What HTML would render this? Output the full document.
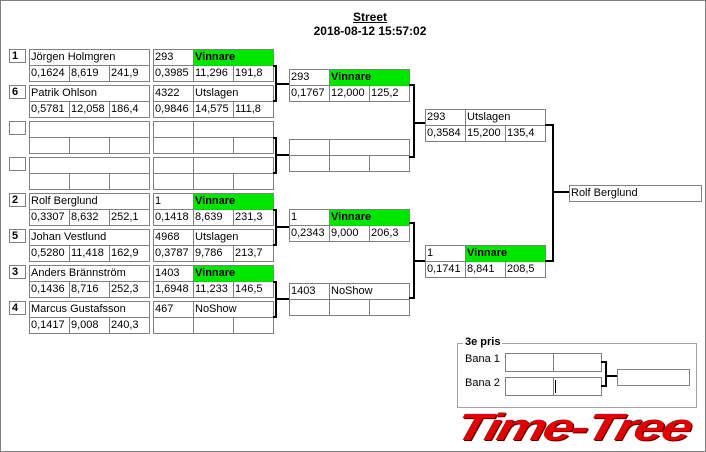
<!DOCTYPE html>
<html><head><meta charset="utf-8"><style>
*{margin:0;padding:0;box-sizing:border-box}
body{width:706px;height:452px;position:relative;background:#fff;font-family:"Liberation Sans",sans-serif;font-size:11px;overflow:hidden}
#frame{position:absolute;left:0;top:0;width:706px;height:452px;border:1px solid #808080}
.c{position:absolute;border:1px solid #808080;background:#fff;height:17px;line-height:14px;padding-left:1px;white-space:nowrap;overflow:hidden;color:#000}
.g{background:#00e600;font-weight:bold}
.s{position:absolute;border:1px solid #808080;width:17px;height:14px;font-weight:bold;line-height:12px;padding-left:2px;background:#fff}
.t{position:absolute;font-weight:bold;font-size:12px;text-align:center;width:706px;left:17px}
</style></head><body>
<div id="frame"></div>
<div class="t" style="top:10px;text-decoration:underline">Street</div>
<div class="t" style="top:24px">2018-08-12 15:57:02</div>

<!-- seeds -->
<div class="s" style="left:9px;top:49px">1</div>
<div class="c" style="left:29px;top:49px;width:121px">Jörgen Holmgren</div>
<div class="c" style="left:29px;top:65px;width:41px">0,1624</div><div class="c" style="left:69px;top:65px;width:41px">8,619</div><div class="c" style="left:109px;top:65px;width:41px">241,9</div>
<div class="s" style="left:9px;top:85px">6</div>
<div class="c" style="left:29px;top:85px;width:121px">Patrik Ohlson</div>
<div class="c" style="left:29px;top:101px;width:41px">0,5781</div><div class="c" style="left:69px;top:101px;width:41px">12,058</div><div class="c" style="left:109px;top:101px;width:41px">186,4</div>
<div class="s" style="left:9px;top:121px"></div>
<div class="c" style="left:29px;top:121px;width:121px"></div>
<div class="c" style="left:29px;top:137px;width:41px"></div><div class="c" style="left:69px;top:137px;width:41px"></div><div class="c" style="left:109px;top:137px;width:41px"></div>
<div class="s" style="left:9px;top:157px"></div>
<div class="c" style="left:29px;top:157px;width:121px"></div>
<div class="c" style="left:29px;top:173px;width:41px"></div><div class="c" style="left:69px;top:173px;width:41px"></div><div class="c" style="left:109px;top:173px;width:41px"></div>
<div class="s" style="left:9px;top:193px">2</div>
<div class="c" style="left:29px;top:193px;width:121px">Rolf Berglund</div>
<div class="c" style="left:29px;top:209px;width:41px">0,3307</div><div class="c" style="left:69px;top:209px;width:41px">8,632</div><div class="c" style="left:109px;top:209px;width:41px">252,1</div>
<div class="s" style="left:9px;top:229px">5</div>
<div class="c" style="left:29px;top:229px;width:121px">Johan Vestlund</div>
<div class="c" style="left:29px;top:245px;width:41px">0,5280</div><div class="c" style="left:69px;top:245px;width:41px">11,418</div><div class="c" style="left:109px;top:245px;width:41px">162,9</div>
<div class="s" style="left:9px;top:265px">3</div>
<div class="c" style="left:29px;top:265px;width:121px">Anders Brännström</div>
<div class="c" style="left:29px;top:281px;width:41px">0,1436</div><div class="c" style="left:69px;top:281px;width:41px">8,716</div><div class="c" style="left:109px;top:281px;width:41px">252,3</div>
<div class="s" style="left:9px;top:301px">4</div>
<div class="c" style="left:29px;top:301px;width:121px">Marcus Gustafsson</div>
<div class="c" style="left:29px;top:317px;width:41px">0,1417</div><div class="c" style="left:69px;top:317px;width:41px">9,008</div><div class="c" style="left:109px;top:317px;width:41px">240,3</div>

<!-- round 1 -->
<div class="c" style="left:153px;top:49px;width:41px">293</div><div class="c g" style="left:193px;top:49px;width:81px">Vinnare</div>
<div class="c" style="left:153px;top:65px;width:41px">0,3985</div><div class="c" style="left:193px;top:65px;width:41px">11,296</div><div class="c" style="left:233px;top:65px;width:41px">191,8</div>
<div class="c" style="left:153px;top:85px;width:41px">4322</div><div class="c" style="left:193px;top:85px;width:81px">Utslagen</div>
<div class="c" style="left:153px;top:101px;width:41px">0,9846</div><div class="c" style="left:193px;top:101px;width:41px">14,575</div><div class="c" style="left:233px;top:101px;width:41px">111,8</div>
<div class="c" style="left:153px;top:121px;width:41px"></div><div class="c" style="left:193px;top:121px;width:81px"></div>
<div class="c" style="left:153px;top:137px;width:41px"></div><div class="c" style="left:193px;top:137px;width:41px"></div><div class="c" style="left:233px;top:137px;width:41px"></div>
<div class="c" style="left:153px;top:157px;width:41px"></div><div class="c" style="left:193px;top:157px;width:81px"></div>
<div class="c" style="left:153px;top:173px;width:41px"></div><div class="c" style="left:193px;top:173px;width:41px"></div><div class="c" style="left:233px;top:173px;width:41px"></div>
<div class="c" style="left:153px;top:193px;width:41px">1</div><div class="c g" style="left:193px;top:193px;width:81px">Vinnare</div>
<div class="c" style="left:153px;top:209px;width:41px">0,1418</div><div class="c" style="left:193px;top:209px;width:41px">8,639</div><div class="c" style="left:233px;top:209px;width:41px">231,3</div>
<div class="c" style="left:153px;top:229px;width:41px">4968</div><div class="c" style="left:193px;top:229px;width:81px">Utslagen</div>
<div class="c" style="left:153px;top:245px;width:41px">0,3787</div><div class="c" style="left:193px;top:245px;width:41px">9,786</div><div class="c" style="left:233px;top:245px;width:41px">213,7</div>
<div class="c" style="left:153px;top:265px;width:41px">1403</div><div class="c g" style="left:193px;top:265px;width:81px">Vinnare</div>
<div class="c" style="left:153px;top:281px;width:41px">1,6948</div><div class="c" style="left:193px;top:281px;width:41px">11,233</div><div class="c" style="left:233px;top:281px;width:41px">146,5</div>
<div class="c" style="left:153px;top:301px;width:41px">467</div><div class="c" style="left:193px;top:301px;width:81px">NoShow</div>
<div class="c" style="left:153px;top:317px;width:41px"></div><div class="c" style="left:193px;top:317px;width:41px"></div><div class="c" style="left:233px;top:317px;width:41px"></div>

<!-- round 2 -->
<div class="c" style="left:289px;top:69px;width:41px">293</div><div class="c g" style="left:329px;top:69px;width:81px">Vinnare</div>
<div class="c" style="left:289px;top:85px;width:41px">0,1767</div><div class="c" style="left:329px;top:85px;width:41px">12,000</div><div class="c" style="left:369px;top:85px;width:41px">125,2</div>
<div class="c" style="left:289px;top:139px;width:41px"></div><div class="c" style="left:329px;top:139px;width:81px"></div>
<div class="c" style="left:289px;top:155px;width:41px"></div><div class="c" style="left:329px;top:155px;width:41px"></div><div class="c" style="left:369px;top:155px;width:41px"></div>
<div class="c" style="left:289px;top:209px;width:41px">1</div><div class="c g" style="left:329px;top:209px;width:81px">Vinnare</div>
<div class="c" style="left:289px;top:225px;width:41px">0,2343</div><div class="c" style="left:329px;top:225px;width:41px">9,000</div><div class="c" style="left:369px;top:225px;width:41px">206,3</div>
<div class="c" style="left:289px;top:283px;width:41px">1403</div><div class="c" style="left:329px;top:283px;width:81px">NoShow</div>
<div class="c" style="left:289px;top:299px;width:41px"></div><div class="c" style="left:329px;top:299px;width:41px"></div><div class="c" style="left:369px;top:299px;width:41px"></div>

<!-- round 3 -->
<div class="c" style="left:425px;top:109px;width:41px">293</div><div class="c" style="left:465px;top:109px;width:81px">Utslagen</div>
<div class="c" style="left:425px;top:125px;width:41px">0,3584</div><div class="c" style="left:465px;top:125px;width:41px">15,200</div><div class="c" style="left:505px;top:125px;width:41px">135,4</div>
<div class="c" style="left:425px;top:245px;width:41px">1</div><div class="c g" style="left:465px;top:245px;width:81px">Vinnare</div>
<div class="c" style="left:425px;top:261px;width:41px">0,1741</div><div class="c" style="left:465px;top:261px;width:41px">8,841</div><div class="c" style="left:505px;top:261px;width:41px">208,5</div>

<div class="c" style="left:569px;top:185px;width:133px">Rolf Berglund</div>

<!-- 3e pris -->
<div style="position:absolute;left:457px;top:343px;width:240px;height:65px;border:1px solid #a0a0a0"></div>
<div style="position:absolute;left:463px;top:336px;background:#fff;padding:0 2px;font-weight:bold">3e pris</div>
<div style="position:absolute;left:465px;top:353px">Bana 1</div>
<div style="position:absolute;left:465px;top:377px">Bana 2</div>
<div class="c" style="left:505px;top:353px;width:49px;height:19px"></div><div class="c" style="left:553px;top:353px;width:49px;height:19px"></div>
<div class="c" style="left:505px;top:377px;width:49px;height:19px"></div><div class="c" style="left:553px;top:377px;width:49px;height:19px"></div>
<div style="position:absolute;left:555px;top:380px;width:1px;height:13px;background:#000"></div>
<div class="c" style="left:617px;top:369px;width:73px;height:17px"></div>

<svg width="706" height="452" style="position:absolute;left:0;top:0" fill="none" stroke="#000" stroke-width="2">
<path d="M273 66H276V101H273M276 84H289"/>
<path d="M273 138H276V173H273M276 155H289"/>
<path d="M273 210H276V245H273M276 227H289"/>
<path d="M273 282H276V317H273M276 299H289"/>
<path d="M409 85H414V157H409M414 123H425"/>
<path d="M409 223H414V298H409M414 261H425"/>
<path d="M545 125H553V261H545M553 192H569"/>
<path d="M601 362H606V386H601M606 376H617"/>
</svg>

<div style="position:absolute;left:456px;top:409px;font-family:'Liberation Sans',sans-serif;font-weight:bold;font-style:italic;font-size:38px;letter-spacing:-2px;color:#e00000;transform:skewX(-15deg) scaleX(1.44);transform-origin:left;text-shadow:1px 1px 0 #400;line-height:38px;white-space:nowrap">Time-Tree</div>
</body></html>
